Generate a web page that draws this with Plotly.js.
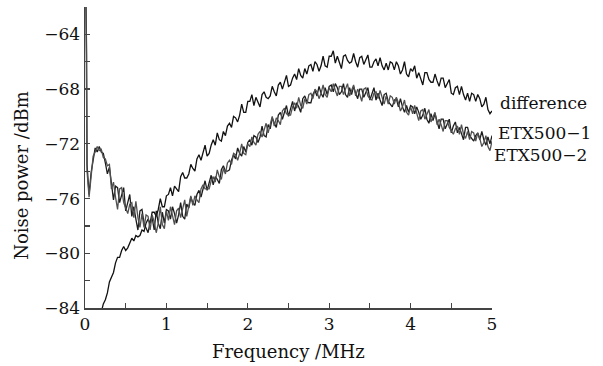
<!DOCTYPE html>
<html>
<head>
<meta charset="utf-8">
<script src="https://cdn.plot.ly/plotly-3.0.1.min.js"></script>
<style>html,body{margin:0;padding:0;background:#fff;}#chart{width:603px;height:366px;}</style>
</head>
<body>
<div id="chart"></div>
<script>
// Frequency grid (MHz), 0.025 .. 5.000
const freq = [];
for (let i = 1; i <= 200; i++) freq.push(Math.round(i * 25) / 1000);
// steep start of the ETX500 curves just above 0 MHz
const freqHead = [0.012, 0.02];
const etx1Head = [-61.8, -65.5];
const etx2Head = [-62.0, -66.5];

// ETX500-1 (dBm) on freq
const etx1 = [
  -73.5,-75.7,-74.1,-73.2,-72.3,-72.6,-72.2,-72.6,-72.7,-73.4,
  -74.2,-73.7,-75.0,-76.1,-75.1,-75.2,-76.3,-75.7,-75.2,-76.9,
  -76.2,-75.7,-77.3,-76.6,-77.5,-78.3,-76.9,-76.8,-77.8,-78.2,
  -78.5,-77.7,-77.4,-78.3,-76.9,-77.8,-78.2,-77.0,-77.8,-76.8,
  -76.9,-77.5,-76.6,-77.1,-77.8,-77.2,-76.3,-77.3,-77.5,-76.4,
  -76.7,-75.9,-76.3,-76.5,-75.7,-75.4,-75.9,-75.3,-74.7,-75.4,
  -74.8,-74.3,-75.0,-74.4,-74.6,-74.9,-73.9,-73.6,-74.0,-74.0,
  -73.9,-73.2,-72.8,-73.1,-72.3,-72.7,-72.9,-72.2,-72.6,-71.9,
  -71.7,-72.1,-71.4,-71.5,-71.9,-71.5,-70.7,-71.4,-71.5,-70.6,
  -70.9,-70.1,-70.5,-70.8,-69.9,-69.7,-70.2,-69.7,-69.2,-70.0,
  -69.4,-68.9,-69.6,-69.0,-69.3,-69.7,-68.7,-68.5,-68.9,-69.0,
  -69.0,-68.4,-68.1,-68.5,-67.8,-68.3,-68.6,-67.9,-68.4,-67.8,
  -67.7,-68.2,-67.6,-67.9,-68.4,-68.2,-67.6,-68.4,-68.6,-67.9,
  -68.4,-67.8,-68.3,-68.7,-68.0,-68.0,-68.6,-68.2,-67.9,-68.8,
  -68.3,-67.9,-68.8,-68.3,-68.8,-69.2,-68.4,-68.3,-68.9,-69.1,
  -69.3,-68.8,-68.7,-69.3,-68.7,-69.3,-69.7,-69.2,-69.7,-69.2,
  -69.3,-69.8,-69.3,-69.7,-70.2,-69.9,-69.4,-70.2,-70.5,-69.8,
  -70.3,-69.8,-70.4,-70.9,-70.2,-70.2,-70.9,-70.6,-70.2,-71.2,
  -70.7,-70.4,-71.2,-70.8,-71.2,-71.7,-70.8,-70.8,-71.4,-71.6,
  -71.8,-71.4,-71.2,-71.7,-71.1,-71.7,-72.1,-71.5,-72.0,-71.4
];
// ETX500-2 (dBm) on freq
const etx2 = [
  -74.0,-75.9,-74.4,-72.9,-72.6,-72.2,-72.5,-72.4,-73.0,-73.1,
  -73.6,-73.5,-75.3,-74.8,-75.9,-76.8,-75.3,-75.2,-76.3,-76.7,
  -77.1,-76.4,-76.3,-77.4,-76.2,-77.4,-78.1,-77.1,-78.1,-77.2,
  -77.3,-78.3,-77.2,-77.7,-78.5,-77.8,-76.6,-77.9,-78.2,-76.9,
  -77.6,-76.6,-77.3,-77.9,-76.9,-76.7,-77.4,-76.8,-76.1,-77.3,
  -76.4,-75.8,-76.5,-75.8,-76.1,-76.3,-75.3,-75.0,-75.3,-75.3,
  -75.3,-74.7,-74.4,-74.8,-73.9,-74.4,-74.6,-73.8,-74.2,-73.4,
  -73.2,-73.5,-72.7,-72.8,-73.2,-72.7,-72.0,-72.7,-72.8,-72.0,
  -72.2,-71.5,-71.9,-72.1,-71.3,-71.1,-71.5,-71.0,-70.5,-71.2,
  -70.6,-70.0,-70.7,-70.1,-70.3,-70.6,-69.6,-69.4,-69.8,-69.9,
  -69.9,-69.3,-69.0,-69.4,-68.6,-69.2,-69.4,-68.7,-69.1,-68.4,
  -68.3,-68.7,-68.0,-68.2,-68.7,-68.3,-67.7,-68.4,-68.6,-67.9,
  -68.2,-67.6,-68.1,-68.5,-67.8,-67.8,-68.4,-68.0,-67.6,-68.5,
  -68.1,-67.7,-68.5,-68.0,-68.4,-68.9,-68.0,-67.9,-68.5,-68.7,
  -68.8,-68.3,-68.2,-68.7,-68.1,-68.7,-69.1,-68.5,-69.1,-68.5,
  -68.6,-69.1,-68.6,-69.0,-69.6,-69.3,-68.8,-69.7,-69.9,-69.3,
  -69.8,-69.2,-69.8,-70.3,-69.6,-69.5,-70.2,-69.8,-69.5,-70.4,
  -70.0,-69.7,-70.6,-70.2,-70.6,-71.1,-70.3,-70.3,-70.8,-71.1,
  -71.3,-70.9,-70.7,-71.3,-70.6,-71.3,-71.6,-71.1,-71.7,-71.1,
  -71.2,-71.8,-71.2,-71.6,-72.2,-71.9,-71.4,-72.2,-72.5,-71.8
];
// difference (dBm) on freq from 0.200 MHz
const diff = [
  -84.3,-83.7,-83.4,
  -82.9,-82.1,-81.8,-81.4,-80.7,-80.3,-80.3,-79.8,-79.5,-79.8,
  -79.6,-79.2,-78.9,-79.1,-78.7,-78.8,-78.7,-78.3,-78.4,-77.8,
  -77.5,-77.8,-77.0,-77.0,-77.3,-76.8,-76.0,-76.6,-76.6,-75.8,
  -75.7,-75.2,-75.8,-75.1,-75.3,-75.5,-74.4,-74.1,-74.5,-74.5,
  -74.2,-73.5,-73.8,-74.0,-73.1,-72.8,-73.2,-72.7,-72.1,-72.9,
  -72.7,-72.1,-71.7,-72.1,-71.2,-71.7,-71.8,-71.1,-71.4,-70.7,
  -70.5,-70.8,-70.0,-70.1,-70.4,-69.9,-69.1,-69.7,-69.7,-68.9,
  -68.9,-68.4,-69.2,-68.6,-69.0,-69.3,-68.4,-68.2,-68.6,-68.7,
  -68.5,-67.8,-68.2,-68.5,-67.7,-67.5,-68.0,-67.5,-67.0,-67.8,
  -67.7,-67.2,-66.9,-67.3,-66.5,-67.0,-67.2,-66.5,-66.9,-66.3,
  -66.2,-66.7,-66.0,-66.2,-66.7,-66.3,-65.6,-66.3,-66.4,-65.6,
  -65.6,-65.2,-66.1,-65.6,-66.1,-66.5,-65.6,-65.5,-65.9,-66.1,
  -66.0,-65.4,-66.0,-66.4,-65.7,-65.6,-66.2,-65.9,-65.5,-66.4,
  -66.4,-66.0,-65.8,-66.3,-65.7,-66.3,-66.6,-66.1,-66.6,-66.0,
  -66.1,-66.6,-66.0,-66.3,-66.9,-66.6,-66.0,-66.9,-67.1,-66.5,
  -66.7,-66.3,-67.2,-66.8,-67.2,-67.7,-66.8,-66.8,-67.3,-67.5,
  -67.5,-66.9,-67.4,-67.8,-67.2,-67.2,-67.9,-67.6,-67.3,-68.3,
  -68.4,-67.9,-67.8,-68.4,-67.8,-68.4,-68.8,-68.3,-68.9,-68.3,
  -68.4,-68.9,-68.4,-68.7,-69.3,-69.1,-68.6,-69.5,-69.8,-69.6
];
const diffFreq = freq.slice(7);

const seriesNames = ['difference', 'ETX500\u22121', 'ETX500\u22122'];
const xTickVals = [0,0.5,1,1.5,2,2.5,3,3.5,4,4.5,5];
const xTickText = ['0','','1','','2','','3','','4','','5'];
const yTickVals = [-84,-82,-80,-78,-76,-74,-72,-70,-68,-66,-64,-62];
const yTickText = ['\u221284','','\u221280','','\u221276','','\u221272','','\u221268','','\u221264',''];

const FONT = 'DejaVu Serif, serif';
const traces = [
  {x: diffFreq, y: diff, mode: 'lines', line: {color: '#111111', width: 1.3}},
  {x: freqHead.concat(freq), y: etx1Head.concat(etx1), mode: 'lines', line: {color: '#1c1c1c', width: 1.3}},
  {x: freqHead.concat(freq), y: etx2Head.concat(etx2), mode: 'lines', line: {color: '#505050', width: 1.3}}
];

const axisCommon = {
  showgrid: false, zeroline: false, showline: true, linecolor: '#444', linewidth: 1.5,
  ticks: 'inside', ticklen: 5, tickwidth: 1.2, tickcolor: '#444',
  tickfont: {family: FONT, size: 17, color: '#111'}, tickmode: 'array', fixedrange: true
};

const lab = (t, x, y) => ({text: t, x: x, y: y, xref: 'paper', yref: 'paper', xanchor: 'left', yanchor: 'middle',
  showarrow: false, font: {family: FONT, size: 17, color: '#111'}});

const layout = {
  width: 603, height: 366,
  margin: {l: 85, r: 111, t: 7, b: 58},
  paper_bgcolor: '#fff', plot_bgcolor: '#fff',
  showlegend: false,
  xaxis: Object.assign({}, axisCommon, {range: [0, 5], tickvals: xTickVals, ticktext: xTickText}),
  yaxis: Object.assign({}, axisCommon, {range: [-84, -62], tickvals: yTickVals, ticktext: yTickText}),
  annotations: [
    lab(seriesNames[0], 1.0147, 0.681),
    lab(seriesNames[1], 1.0098, 0.581),
    lab(seriesNames[2], 1.0, 0.508),
    {text: 'Frequency /MHz', x: 0.499, y: -0.146, xref: 'paper', yref: 'paper', xanchor: 'center', yanchor: 'middle', showarrow: false, font: {family: FONT, size: 18, color: '#111'}},
    {text: 'Noise power /dBm', x: -0.155, y: 0.442, xref: 'paper', yref: 'paper', xanchor: 'center', yanchor: 'middle', textangle: -90, showarrow: false, font: {family: FONT, size: 18, color: '#111'}}
  ]
};

Plotly.newPlot('chart', traces, layout, {displayModeBar: false, staticPlot: true});
</script>
</body>
</html>
